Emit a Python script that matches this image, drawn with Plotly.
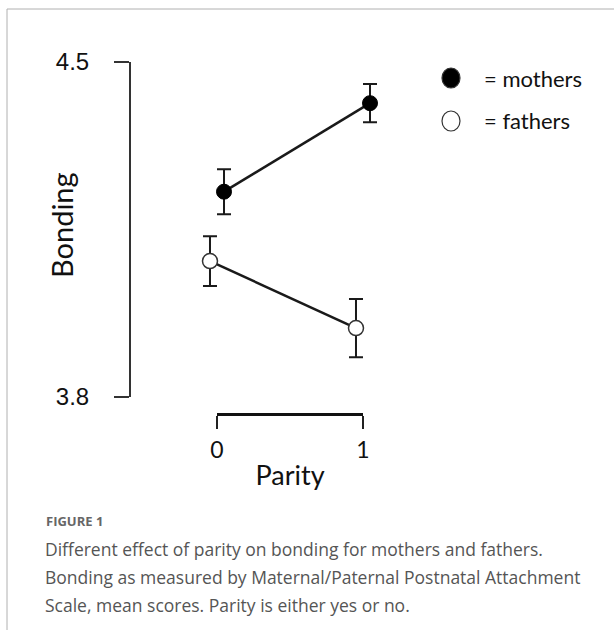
import plotly.graph_objects as go

# ---- data ----
parity = [0, 1]
parity_labels = ["0", "1"]
mothers_mean = [4.229, 4.414]
mothers_err = [0.047, 0.040]
fathers_mean = [4.084, 3.944]
fathers_err = [0.052, 0.061]
y_ticks = [3.8, 4.5]
y_tick_labels = ["3.8", "4.5"]
group_names = ["= mothers", "= fathers"]
caption_head = "FIGURE 1"
caption_lines = [
    "Different effect of parity on bonding for mothers and fathers.",
    "Bonding as measured by Maternal/Paternal Postnatal Attachment",
    "Scale, mean scores. Parity is either yes or no.",
]

W, H = 614, 630
def px(x):
    return x / W
def py(y):
    return 1 - y / H

dodge = 0.048
ink = "#1a1a1a"

fig = go.Figure()

fig.add_trace(go.Scatter(
    x=[p + dodge for p in parity], y=mothers_mean,
    mode="lines+markers",
    line=dict(color=ink, width=2.5),
    marker=dict(size=15, color="black", line=dict(color="black", width=1)),
    error_y=dict(type="data", array=mothers_err, visible=True, color=ink, thickness=2, width=7),
    showlegend=False, cliponaxis=False,
))
fig.add_trace(go.Scatter(
    x=[p - dodge for p in parity], y=fathers_mean,
    mode="lines+markers",
    line=dict(color=ink, width=2.5),
    marker=dict(size=15, color="white", line=dict(color="#333333", width=1.5)),
    error_y=dict(type="data", array=fathers_err, visible=True, color=ink, thickness=2, width=7),
    showlegend=False, cliponaxis=False,
))
# carrier trace for the parity axis subplot
fig.add_trace(go.Scatter(x=parity, y=[None, None], xaxis="x2", yaxis="y2",
                         showlegend=False, hoverinfo="skip"))

x0_px, x1_px = 217, 363
ppu = (x1_px - x0_px)
left_px, right_px = 131, 600

fig.update_layout(
    width=W, height=H,
    margin=dict(l=0, r=0, t=0, b=0),
    paper_bgcolor="white", plot_bgcolor="white",
    showlegend=False,
    xaxis=dict(
        domain=[px(left_px), px(right_px)],
        range=[(left_px - x0_px) / ppu, (right_px - x0_px) / ppu],
        visible=False, automargin=False, anchor="y",
    ),
    yaxis=dict(
        domain=[py(397), py(62)],
        range=[3.8, 4.5],
        tickvals=y_ticks, ticktext=y_tick_labels,
        ticks="outside", ticklen=15, tickwidth=2, tickcolor="#333333",
        showline=True, linewidth=2, linecolor="#333333",
        showgrid=False, zeroline=False,
        tickfont=dict(family="Liberation Sans", size=24, color="#111111"),
        ticklabelstandoff=20,
        automargin=False, anchor="x",
    ),
    xaxis2=dict(
        domain=[px(x0_px), px(x1_px)],
        range=[0, 1],
        tickvals=parity, ticktext=parity_labels,
        ticks="outside", ticklen=13, tickwidth=2, tickcolor="#222222",
        showline=True, linewidth=2.5, linecolor="#111111",
        showgrid=False, zeroline=False,
        tickfont=dict(family="Lato", size=23, color="#111111"),
        ticklabelstandoff=2,
        title=dict(text="Parity", font=dict(family="Lato", size=27, color="#111111"), standoff=4),
        automargin=False, anchor="y2",
    ),
    yaxis2=dict(
        domain=[py(413), py(405)],
        range=[0, 1], visible=False, automargin=False, anchor="x2",
    ),
)

# y-axis title
fig.add_annotation(text="Bonding", xref="paper", yref="paper",
                   x=px(61), y=py(225), textangle=-90, showarrow=False,
                   xanchor="center", yanchor="middle",
                   font=dict(family="Lato", size=29, color="#111111"))

# custom legend
leg_y = [78, 121]
fills = ["black", "white"]
for name, yy, fc in zip(group_names, leg_y, fills):
    fig.add_shape(type="circle", xref="paper", yref="paper",
                  xsizemode="pixel", ysizemode="pixel",
                  xanchor=px(451), yanchor=py(yy),
                  x0=-9, x1=9, y0=-10, y1=10,
                  fillcolor=fc, line=dict(color="#333333", width=1.2))
    fig.add_annotation(text=name, xref="paper", yref="paper",
                       x=px(482), y=py(yy), xanchor="left", yanchor="middle",
                       showarrow=False,
                       font=dict(family="Lato", size=22, color="#111111"))

# frame lines
fig.add_shape(type="line", xref="paper", yref="paper",
              x0=px(7), x1=1, y0=py(9), y1=py(9),
              line=dict(color="#b0b0b0", width=1))
fig.add_shape(type="line", xref="paper", yref="paper",
              x0=px(7), x1=px(7), y0=py(9), y1=0,
              line=dict(color="#b0b0b0", width=1))

# caption
fig.add_annotation(text="<b>" + caption_head + "</b>", xref="paper", yref="paper",
                   x=px(44), y=py(521), xanchor="left", yanchor="middle",
                   showarrow=False,
                   font=dict(family="Open Sans", size=13, color="#666666"))
for i, line in enumerate(caption_lines):
    fig.add_annotation(text=line, xref="paper", yref="paper",
                       x=px(43), y=py(549 + 28 * i), xanchor="left", yanchor="middle",
                       showarrow=False,
                       font=dict(family="Open Sans", size=17.5, color="#555555"))

fig.write_html("out.html",
               config={"displayModeBar": False},
               post_script="document.body.style.margin='0';document.body.style.overflow='hidden';")
